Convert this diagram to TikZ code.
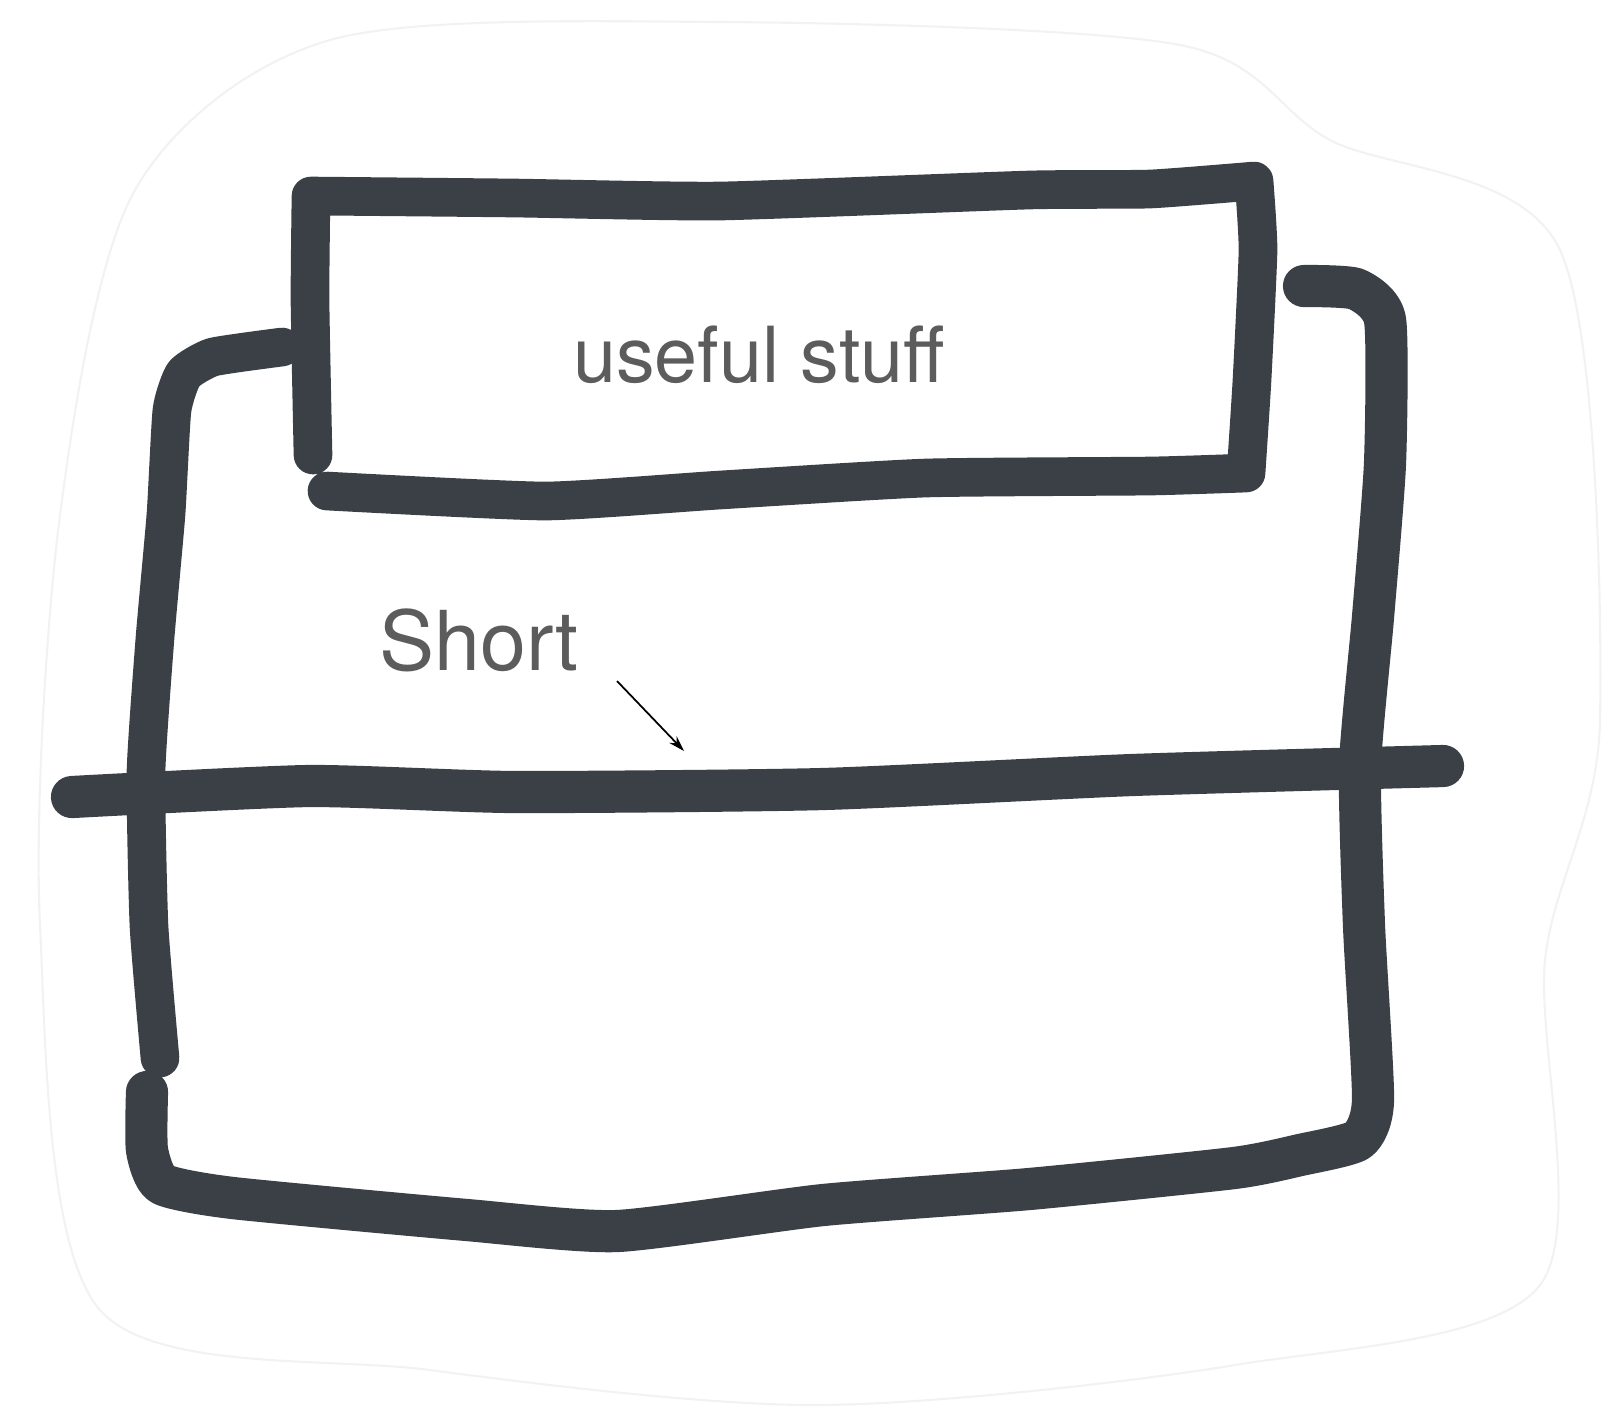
\documentclass[tikz,border=0pt]{standalone}
\usepackage{fontspec}
\setmainfont{TeX Gyre Heros}
\usepackage{xcolor}
\usetikzlibrary{arrows.meta}
\definecolor{ink}{RGB}{58,64,70}
\definecolor{labelgray}{RGB}{92,92,92}
\tikzset{
    marker/.style={draw=ink, line width=11pt, line cap=round, line join=round},
    thickmarker/.style={marker, line width=12pt},
    paper/.style={draw=black!5, line width=0.6pt},
    label/.style={text=labelgray, inner sep=0pt}
}

\begin{document}
\begin{tikzpicture}[x=0.1mm, y=-0.1mm]
    \useasboundingbox (0,0) rectangle (1613,1415);
    % edge of the sheet
    \draw[paper] plot[smooth cycle, tension=0.5] coordinates {(135,190) (330,40) (720,22) (1180,45) (1330,140) (1560,250) (1600,720) (1545,960) (1540,1285) (1235,1365) (820,1405) (430,1370) (100,1310) (40,925) (60,515)};
    % small box
    \draw[marker] plot[smooth, tension=0.3] coordinates {(313,455) (310,300) (311,196)}
        -- plot[smooth, tension=0.3] coordinates {(311,196) (514,198) (720,201) (1029,190) (1150,189) (1254,181)}
        -- plot[smooth, tension=0.3] coordinates {(1254,181) (1258,250) (1252,380) (1246,473)}
        -- plot[smooth, tension=0.3] coordinates {(1246,473) (1150,476) (926,478) (720,490) (545,501) (327,491)};
    % big box, upper part
    \draw[marker] plot[smooth, tension=0.3] coordinates {(282,347) (213,357) (184,374) (172,410) (166,514) (155,638) (146,772) (149,926) (160,1058)};
    % big box, lower part
    \draw[thickmarker] plot[smooth, tension=0.35] coordinates {(147,1092) (147,1150) (162,1184) (233,1198) (467,1220) (617,1231) (823,1205) (1029,1189) (1234,1168) (1300,1155) (1358,1140) (1373,1100) (1364,926) (1360,766) (1373,617) (1385,463) (1385,320) (1356,289) (1304,286)};
    % the short line
    \draw[thickmarker] plot[smooth, tension=0.35] coordinates {(72,797) (309,786) (514,792) (823,789) (1132,775) (1443,766)};
    \node[label, font=\fontsize{22}{26}\selectfont] (useful) at (759,355) {useful stuff};
    \node[label, font=\fontsize{23.5}{28}\selectfont] (short) at (479,640) {Short};
    \coordinate (tail) at (617,681);
    \coordinate (tip) at (684,751);
    \draw[black, line width=0.5pt, -{Stealth[length=1.6mm, width=1mm]}] (tail) -- (tip);
\end{tikzpicture}
\end{document}
